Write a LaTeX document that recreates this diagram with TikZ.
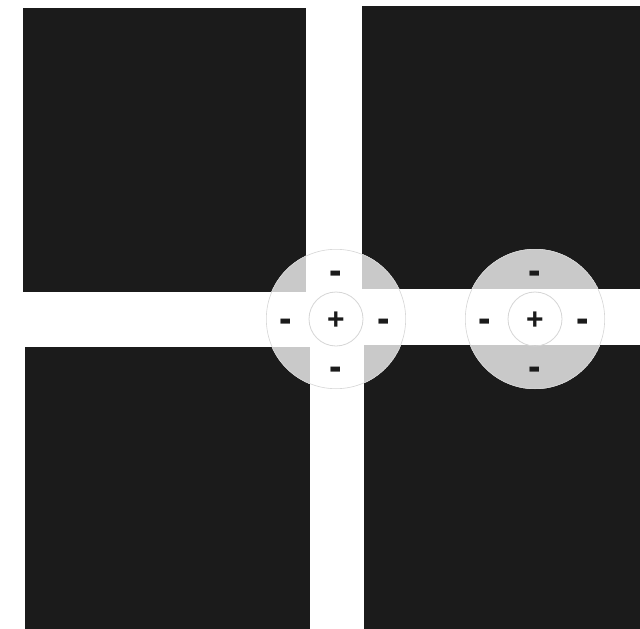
\documentclass[tikz,border=0pt]{standalone}
\usepackage{fontspec}
\setmainfont{Liberation Sans}
\definecolor{sq}{HTML}{1B1B1B}
\definecolor{rf}{HTML}{C9C9C9}
\definecolor{ring}{HTML}{D6D6D6}
\begin{document}
\begin{tikzpicture}[x=1pt,y=-1pt,
  sign/.style={font=\bfseries\fontsize{30}{30}\selectfont, inner sep=0pt, text=sq},
  minus/.style={sign, xscale=1.25, yscale=1.4},
  sqfill/.style={fill=sq},
  rffill/.style={fill=rf}]
\useasboundingbox (0,0) rectangle (640,629);
\fill[white] (0,0) rectangle (640,629);
% squares
\def\squares#1{%
  \fill[#1] (23,8) rectangle (306,292);
  \fill[#1] (362,6) rectangle (640,289);
  \fill[#1] (25,347) rectangle (310,629);
  \fill[#1] (364,345) rectangle (640,629);}
\squares{sqfill}
% receptive fields
\foreach \cx/\nm in {336/a,535/b}{
  \begin{scope}
    \clip (\cx,319) circle (70);
    \fill[white] (\cx,319) circle (70);
    \squares{rffill}
  \end{scope}
  \draw[ring, line width=0.6pt] (\cx,319) circle (69.7);
  \draw[ring, line width=0.8pt] (\cx,319) circle (27);
  \node[sign] (\nm c) at (\cx,321) {+};
  \node[minus] (\nm t) at (\cx,278) {-};
  \node[minus] (\nm b) at (\cx,374) {-};
  \node[minus] (\nm l) at (\cx-50,326) {-};
  \node[minus] (\nm r) at (\cx+48,326) {-};
}
\end{tikzpicture}
\end{document}
